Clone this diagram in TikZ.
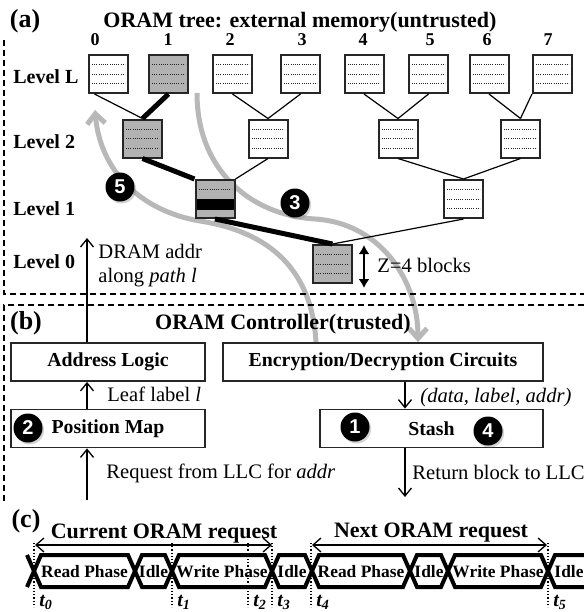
\documentclass[tikz,border=0pt]{standalone}
\usepackage{fontspec}
\setmainfont{Liberation Serif}
\setsansfont{Liberation Sans}
\usetikzlibrary{arrows.meta, positioning, calc, shadows, backgrounds}
\definecolor{pathgray}{gray}{0.70}
\definecolor{flowgray}{gray}{0.72}

\begin{document}
\begin{tikzpicture}[x=0.5pt, y=-0.5pt,
  cell/.style={draw=black!85, line width=1pt, fill=white, minimum width=19.5pt, minimum height=19pt, inner sep=0pt},
  bucket/.style={cell, path picture={
    \foreach \f in {0.25,0.5,0.75}
      \draw[dash pattern=on 0.5pt off 0.6pt, line width=0.35pt]
        ([xshift=1.5pt]$(path picture bounding box.north west)!\f!(path picture bounding box.south west)$) --
        ([xshift=-1.5pt]$(path picture bounding box.north east)!\f!(path picture bounding box.south east)$);}},
  pbucket/.style={bucket, fill=pathgray},
  hbucket/.style={cell, fill=pathgray, path picture={
    \fill[black] ($(path picture bounding box.north west)!0.5!(path picture bounding box.south west)$) rectangle
                 ($(path picture bounding box.north east)!0.78!(path picture bounding box.south east)$);
    \draw[dash pattern=on 0.5pt off 0.6pt, line width=0.35pt]
      ([xshift=1.5pt]$(path picture bounding box.north west)!0.25!(path picture bounding box.south west)$) --
      ([xshift=-1.5pt]$(path picture bounding box.north east)!0.25!(path picture bounding box.south east)$);}},
  link/.style={line width=0.6pt},
  hot/.style={line width=2.5pt},
  flow/.style={flowgray, line width=2.5pt, -{Straight Barb[length=5pt,width=9pt]}},
  sig/.style={line width=0.65pt, -{Straight Barb[length=4pt,width=6.5pt]}},
  reqspan/.style={line width=0.65pt, {Straight Barb[length=4pt,width=7pt]}-{Straight Barb[length=4pt,width=7pt]}},
  zspan/.style={line width=1pt, {Latex[length=4.5pt,width=5.5pt]}-{Latex[length=4.5pt,width=5.5pt]}},
  frame/.style={dashed, dash pattern=on 3pt off 2pt, line width=0.7pt},
  unit/.style={draw=black!85, line width=0.9pt, minimum height=19pt, inner sep=0pt, font=\bfseries\fontsize{9.9pt}{12pt}\selectfont},
  badge/.style={circle, fill=black, text=white, minimum size=14.5pt, inner sep=0pt,
    font=\sffamily\bfseries\fontsize{10pt}{10pt}\selectfont,
    drop shadow={opacity=0.35, shadow xshift=0.8pt, shadow yshift=-1pt}},
  tag/.style={font=\bfseries\fontsize{13pt}{15pt}\selectfont, anchor=base, inner sep=0pt},
  ttl/.style={font=\bfseries\fontsize{11pt}{13pt}\selectfont, anchor=base, inner sep=0pt},
  lvl/.style={font=\bfseries\fontsize{10pt}{12pt}\selectfont, anchor=base west, inner sep=0pt},
  num/.style={font=\bfseries\fontsize{9pt}{11pt}\selectfont, anchor=base, inner sep=0pt},
  note/.style={font=\fontsize{10.3pt}{12.4pt}\selectfont, anchor=base west, inner sep=0pt},
  phase/.style={font=\bfseries\fontsize{8.7pt}{10pt}\selectfont, anchor=base, inner sep=0pt},
  tmark/.style={font=\bfseries\itshape\fontsize{10pt}{12pt}\selectfont, anchor=base west, inner sep=0pt},
  wave/.style={line width=2pt, line join=miter},
  tick/.style={densely dotted, line width=0.6pt}]

  \useasboundingbox (0,0) rectangle (584,612);

  % (a) ORAM tree
  \node[tag] (ta) at (25,27) {(a)};
  \node[ttl] (tree) at (300,27) {ORAM tree: external memory(untrusted)};
  \draw[frame] (4,40) -- (4,294) -- (584,294);

  \foreach \x [count=\i from 0] in {95,168,230,302,363,430,487,548}
    \node[num] (n\i) at (\x,45) {\i};

  \node[lvl] (lvL) at (13,83) {Level L};
  \node[lvl] (lv2) at (13,148) {Level 2};
  \node[lvl] (lv1) at (13,215) {Level 1};
  \node[lvl] (lv0) at (13,268) {Level 0};

  \foreach \x/\s [count=\i from 0] in {108.5/bucket, 168.5/pbucket, 232.5/bucket, 300.5/bucket,
                                       364/bucket, 428.5/bucket, 489/bucket, 552.5/bucket}
    \node[\s] (leaf\i) at (\x,74) {};
  \foreach \x/\s [count=\i from 0] in {142.5/pbucket, 268/bucket, 398/bucket, 520.5/bucket}
    \node[\s] (two\i) at (\x,138.5) {};
  \node[hbucket] (one0) at (215,199) {};
  \node[bucket] (one1) at (463.5,199) {};
  \node[pbucket] (root) at (332.5,264) {};

  \draw[link] ([xshift=-7pt]leaf0.south) -- (two0.north);
  \draw[hot] (leaf1.south) -- (two0.north);
  \draw[link] (leaf2.south) -- (two1.north);
  \draw[link] (leaf3.south) -- (two1.north);
  \draw[link] (leaf4.south) -- (two2.north);
  \draw[link] (leaf5.south) -- (two2.north);
  \draw[link] (leaf6.south) -- (two3.north);
  \draw[link] (leaf7.south west) -- (two3.north);
  \draw[hot] (two0.south) -- (one0.north west);
  \draw[link] (two1.south) -- (one0.north east);
  \draw[link] (two2.south) -- (one1.north);
  \draw[link] (two3.south) -- (one1.north);
  \draw[hot] (one0.south) -- (root.north);
  \draw[link] (one1.south) -- (root.north);

  \draw[zspan] ([xshift=5.5pt,yshift=-0.5pt]root.north east) -- ([xshift=5.5pt,yshift=-2pt]root.south east);
  \node[note] (zlabel) at (377,272) {Z=4 blocks};

  % (b) ORAM controller
  \draw[frame] (584,305) -- (4,305) -- (4,502);
  \node[tag] (tb) at (26,329) {(b)};
  \node[ttl] (ctrl) at (283,329) {ORAM Controller(trusted)};

  \node[unit, minimum width=97pt] (addr) at (108,362) {Address Logic};
  \node[unit, minimum width=160pt] (enc) at (383,362) {Encryption/Decryption Circuits};
  \node[unit, minimum width=97pt] (pos) at (108,428.5) {Position Map};
  \node[unit, minimum width=111.5pt] (stash) at (431.5,428.5) {Stash};

  \coordinate (lane) at (87,0);
  \coordinate (rlane) at (405,0);
  \coordinate (dramtip) at (87,238);
  \coordinate (llc) at (87,500);
  \coordinate (ret) at (405,497);

  \draw[sig] (addr.north -| lane) -- (dramtip);
  \draw[sig] (pos.north -| lane) -- (addr.south -| lane);
  \draw[sig] (llc) -- (pos.south -| lane);
  \draw[sig] (enc.south -| rlane) -- (stash.north -| rlane);
  \draw[sig] (stash.south -| rlane) -- (ret);

  \node[note] (dram) at (98,258) {DRAM addr};
  \node[note] (along) at (98,282) {along \textit{path l}};
  \node[note] (leaflbl) at (107,401) {Leaf label \textit{l}};
  \node[note] (triple) at (420,402) {\textit{(data, label, addr)}};
  \node[note] (req) at (106,478) {Request from LLC for \textit{addr}};
  \node[note] (back) at (412,479) {Return block to LLC};

  % gray read/write flows
  \coordinate (up5) at (95,110);
  \coordinate (dn3) at (197,93);
  \begin{scope}[on background layer]
    \draw[flow] ([xshift=-33.5pt]enc.north) .. controls (312,270) and (270,232) .. (200,221)
                .. controls (140,211) and (100,170) .. (up5);
    \draw[flow] (dn3) .. controls (197,170) and (250,215) .. (315,219)
                .. controls (380,223) and (418,280) .. ([xshift=17.5pt]enc.north);
  \end{scope}

  \node[badge] (s5) at (120,187) {5};
  \node[badge] (s3) at (295,203) {3};
  \node[badge] (s2) at (28,428) {2};
  \node[badge] (s1) at (355,427) {1};
  \node[badge] (s4) at (488,431) {4};

  % (c) timeline
  \node[tag] (tc) at (26,527) {(c)};
  \node[ttl] (cur) at (164,538) {Current ORAM request};
  \node[ttl] (nxt) at (431,537) {Next ORAM request};
  \coordinate (c0) at (35,545);
  \coordinate (c1) at (272,545);
  \coordinate (x0) at (312,545);
  \coordinate (x1) at (547,545);
  \draw[reqspan] (c0) -- (c1);
  \draw[reqspan] (x0) -- (x1);

  \foreach \a/\b/\lbl [count=\i] in {34/135/Read Phase, 135/172/Idle, 172/272/Write Phase, 272/312/Idle,
                                     312/410/Read Phase, 410/448/Idle, 448/548/Write Phase}{
    \draw[wave] (\a,571) -- (\a+7,555) -- (\b-7,555) -- (\b,571) -- (\b-7,587) -- (\a+7,587) -- cycle;
    \node[phase] (ph\i) at ({(\a+\b)/2},577) {\lbl};
  }
  \draw[wave] (27,555) -- (34,571) -- (27,587);
  \draw[wave] (584,555) -- (555,555) -- (548,571) -- (555,587) -- (584,587);
  \node[phase] (ph8) at (569,577) {Idle};

  \foreach \x/\t [count=\i from 0] in {34/0, 172/1, 248/2, 272/3, 311/4, 548/5}{
    \draw[tick] (\x,543) -- (\x,607);
    \node[tmark] (t\i) at (\x+5,606) {t\textsubscript{\t}};
  }

\end{tikzpicture}
\end{document}
